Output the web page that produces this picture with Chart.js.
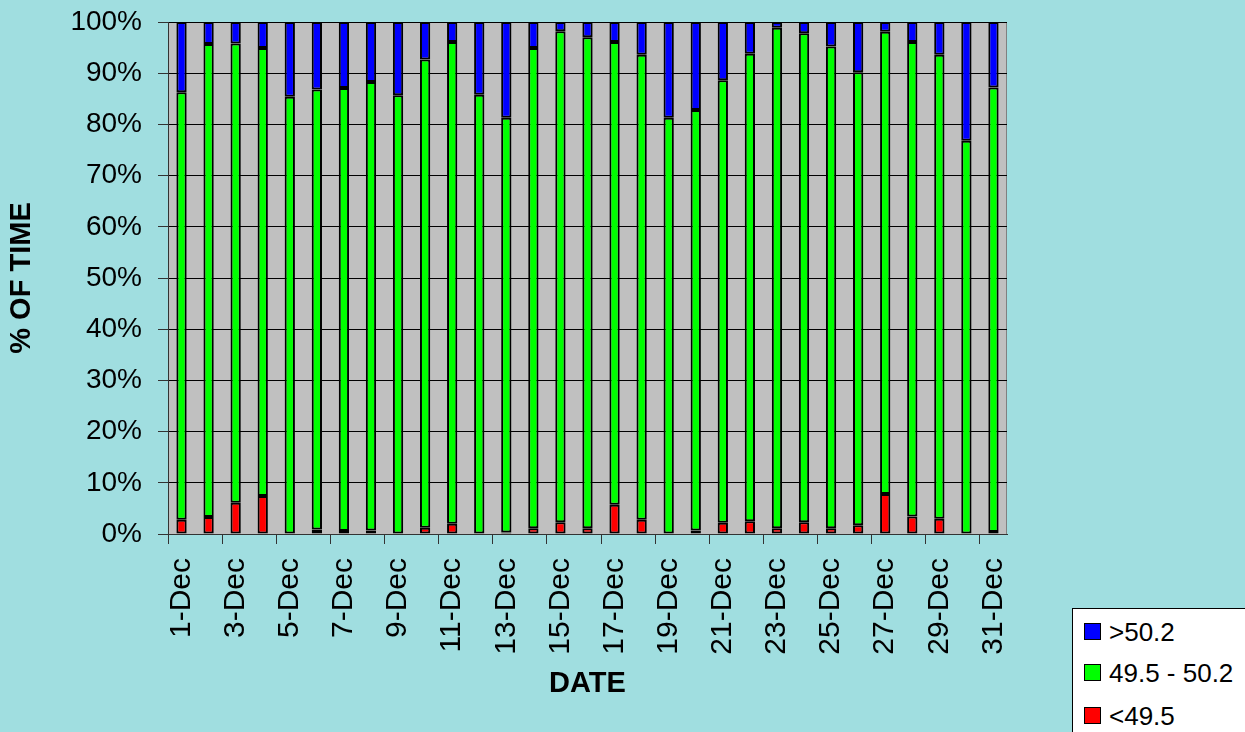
<!DOCTYPE html>
<html>
<head>
<meta charset="utf-8">
<script src="https://cdn.jsdelivr.net/npm/chart.js@4"></script>
<style>
  body { margin: 0; background: #A0DEE0; }
  #box { position: relative; width: 1245px; height: 732px; overflow: hidden; }
  #legenda {
    position: absolute; left: 1072px; top: 608px; width: 200px; height: 140px;
    background: #fff; border: 1px solid #000;
    font-family: "Liberation Sans", Arial, sans-serif; font-size: 26px; color: #000;
  }
  .item { position: absolute; left: 11px; height: 18px; line-height: 18px; white-space: nowrap; }
  .item span { display: inline-block; width: 15px; height: 15px; border: 1px solid #000; vertical-align: top; margin-right: 8px; }
</style>
</head>
<body>
<div id="box">
  <canvas id="grafico" width="1245" height="732"></canvas>
  <div id="legenda"></div>
</div>
<script>
// dados
var dias = ['1-Dec', '2-Dec', '3-Dec', '4-Dec', '5-Dec', '6-Dec', '7-Dec', '8-Dec', '9-Dec', '10-Dec',
  '11-Dec', '12-Dec', '13-Dec', '14-Dec', '15-Dec', '16-Dec', '17-Dec', '18-Dec', '19-Dec', '20-Dec',
  '21-Dec', '22-Dec', '23-Dec', '24-Dec', '25-Dec', '26-Dec', '27-Dec', '28-Dec', '29-Dec', '30-Dec', '31-Dec'];

var abaixo = [2.8, 3.3, 6.1, 7.4, 0, 0.9, 0.6, 0.7, 0, 1.2, 2.0, 0, 0.3, 1.1, 2.3, 1.1,
  5.7, 2.8, 0, 0.7, 2.2, 2.5, 1.1, 2.3, 1.1, 1.7, 7.8, 3.4, 3.0, 0, 0.4];

var faixa = [83.5, 92.4, 89.7, 87.5, 85.4, 85.9, 86.5, 87.6, 85.7, 91.5, 94.1, 85.8, 81.0, 93.8, 95.9, 95.9,
  90.4, 90.8, 81.3, 82.1, 86.4, 91.3, 97.8, 95.5, 94.1, 88.5, 90.3, 92.7, 90.6, 76.8, 86.8];

var acima = [13.7, 4.3, 4.2, 5.1, 14.6, 13.2, 12.9, 11.7, 14.3, 7.3, 3.9, 14.2, 18.7, 5.1, 1.8, 3.0,
  3.9, 6.4, 18.7, 17.2, 11.4, 6.2, 1.1, 2.2, 4.8, 9.8, 1.9, 3.9, 6.4, 23.2, 12.8];

var nomes = ['<49.5', '49.5 - 50.2', '>50.2'];
var cores = ['#FF0000', '#00FF00', '#0000FF'];

var fonte = '"Liberation Sans", Arial, sans-serif';

// fundo cinza da area do grafico
var fundoPlugin = {
  id: 'fundo',
  beforeDraw: function(chart) {
    var a = chart.chartArea, c = chart.ctx;
    c.save();
    c.fillStyle = '#C0C0C0';
    c.fillRect(a.left, a.top, a.right - a.left, a.bottom - a.top);
    c.strokeStyle = '#808080';
    c.lineWidth = 1;
    c.strokeRect(a.left + 0.5, a.top + 0.5, a.right - a.left - 1, a.bottom - a.top);
    c.restore();
  }
};

function serie(i, dados) {
  return {
    label: nomes[i],
    data: dados,
    backgroundColor: cores[i],
    borderColor: '#000',
    borderWidth: 2,
    borderSkipped: false,
    barPercentage: 0.38,
    categoryPercentage: 1
  };
}

// tamanho fixo dos eixos, sem folga extra dos rotulos
function fixaX(s) { s.height = 198; s.paddingLeft = 0; s.paddingRight = 0; }
function fixaY(s) { s.width = 168; s.paddingTop = 0; s.paddingBottom = 0; }

var ctx = document.getElementById('grafico').getContext('2d');
var chart = new Chart(ctx, {
  type: 'bar',
  data: {
    labels: dias,
    datasets: [serie(0, abaixo), serie(1, faixa), serie(2, acima)]
  },
  plugins: [fundoPlugin],
  options: {
    responsive: false,
    animation: false,
    devicePixelRatio: 1,
    layout: { padding: { top: 22, right: 238, left: 0, bottom: 0 } },
    plugins: { legend: { display: false }, tooltip: { enabled: false } },
    scales: {
      x: {
        stacked: true,
        afterFit: fixaX,
        grid: {
          offset: true,
          drawOnChartArea: false,
          tickLength: 10,
          tickColor: function(c) { return c.index % 2 === 0 ? '#333' : 'rgba(0,0,0,0)'; }
        },
        border: { color: '#333', width: 1 },
        ticks: {
          autoSkip: false,
          maxRotation: 90,
          minRotation: 90,
          padding: 14,
          color: '#000',
          font: { family: fonte, size: 30 },
          callback: function(v, i) { return i % 2 === 0 ? dias[i] : ''; }
        },
        title: {
          display: true,
          text: 'DATE',
          color: '#000',
          font: { family: fonte, size: 29, weight: 'bold' },
          padding: { top: 0, bottom: 31 }
        }
      },
      y: {
        stacked: true,
        min: 0,
        max: 100,
        afterFit: fixaY,
        grid: { color: '#000', tickColor: '#333', tickLength: 10 },
        border: { color: '#333', width: 1 },
        ticks: {
          stepSize: 10,
          padding: 16,
          color: '#000',
          font: { family: fonte, size: 28 },
          callback: function(v) { return v + '%'; }
        },
        title: {
          display: true,
          text: '% OF TIME',
          color: '#000',
          font: { family: fonte, size: 29, weight: 'bold' },
          padding: { top: 5, bottom: 0 }
        }
      }
    }
  }
});

// legenda fora do grafico, na ordem inversa
var leg = document.getElementById('legenda');
var topos = [14, 55, 98];
for (var k = 0; k < 3; k++) {
  var idx = 2 - k;
  var d = document.createElement('div');
  d.className = 'item';
  d.style.top = topos[k] + 'px';
  d.innerHTML = '<span style="background:' + cores[idx] + '"></span>';
  d.appendChild(document.createTextNode(nomes[idx]));
  leg.appendChild(d);
}
</script>
</body>
</html>
